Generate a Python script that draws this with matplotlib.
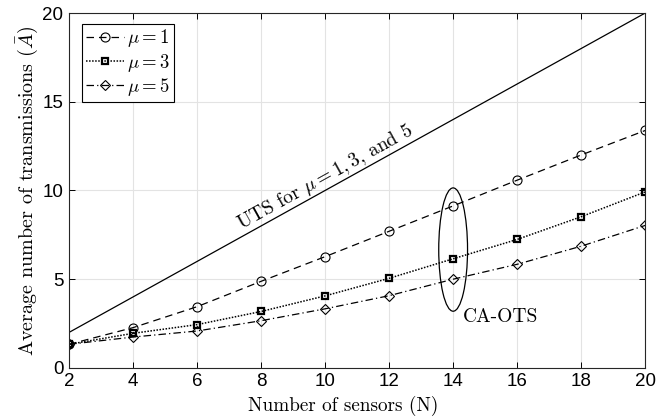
import matplotlib
matplotlib.use("Agg")
import matplotlib.pyplot as plt
from matplotlib.patches import Ellipse

N = [2, 4, 6, 8, 10, 12, 14, 16, 18, 20]
uts = [2, 4, 6, 8, 10, 12, 14, 16, 18, 20]
mu1 = [1.33, 2.27, 3.45, 4.88, 6.27, 7.7, 9.13, 10.58, 12.0, 13.38]
mu3 = [1.33, 1.95, 2.44, 3.18, 4.06, 5.05, 6.15, 7.24, 8.52, 9.92]
mu5 = [1.33, 1.74, 2.08, 2.66, 3.33, 4.07, 5.0, 5.84, 6.86, 8.03]
xticks = [2, 4, 6, 8, 10, 12, 14, 16, 18, 20]
yticks = [0, 5, 10, 15, 20]

plt.rcParams['mathtext.fontset'] = 'cm'
plt.rcParams['axes.unicode_minus'] = False
serif = 'cmr10'
sans = 'Liberation Sans'

fig = plt.figure(figsize=(6.7, 4.2), dpi=100)
ax = fig.add_axes([0.103, 0.124, 0.860, 0.845])

ax.plot(N, uts, color='black', lw=0.9, ls='-')
ax.plot(N, mu1, color='black', lw=0.9, ls=(0, (6, 4)), marker='o', ms=6.5,
        mfc='none', mec='black', mew=0.8, label=r'$\mu = 1$')
ax.plot(N, mu3, color='black', lw=1.1, ls=(0, (1, 1)), marker='s', ms=5,
        mfc='none', mec='black', mew=1.6, label=r'$\mu = 3$')
ax.plot(N, mu5, color='black', lw=0.9, ls=(0, (6, 2.5, 1, 2.5)), marker='D', ms=5.5,
        mfc='none', mec='black', mew=0.8, label=r'$\mu = 5$')

ax.add_patch(Ellipse((14.0, 6.67), 0.9, 6.95, fill=False, ec='black', lw=0.9))
ax.text(14.3, 2.87, 'CA-OTS', family=serif, fontsize=14, ha='left', va='center')
ax.text(10.0, 10.75, r'UTS for $\mu = 1, 3$, and 5', family=serif, fontsize=14,
        ha='center', va='center', rotation=29)

ax.set_xlim(2, 20)
ax.set_ylim(0, 20)
ax.set_xticks(xticks)
ax.set_yticks(yticks)
ax.tick_params(direction='in', top=True, right=True, labelsize=13.5, length=4, width=0.7, pad=4)
for lab in ax.get_xticklabels() + ax.get_yticklabels():
    lab.set_family(sans)
ax.grid(True, color='#e3e3e3', lw=0.8)
ax.set_axisbelow(True)
for s in ax.spines.values():
    s.set_linewidth(0.8)
    s.set_color('#262626')

ax.set_xlabel('Number of sensors (N)', family=serif, fontsize=13.8, labelpad=-1)
ax.xaxis.set_label_coords(0.476, -0.078)
ax.set_ylabel(r'Average number of transmissions ($\bar{A}$)', family=serif, fontsize=14.5, labelpad=2)

leg = ax.legend(loc='upper left', bbox_to_anchor=(0.023, 0.97), fancybox=False,
                edgecolor='black', framealpha=1, fontsize=13.5, handlelength=2.0,
                handletextpad=0.2, borderpad=0.2, labelspacing=0.12, borderaxespad=0)
leg.get_frame().set_linewidth(0.8)
for t in leg.get_texts():
    t.set_family(serif)

fig.savefig('out.png', dpi=100)
